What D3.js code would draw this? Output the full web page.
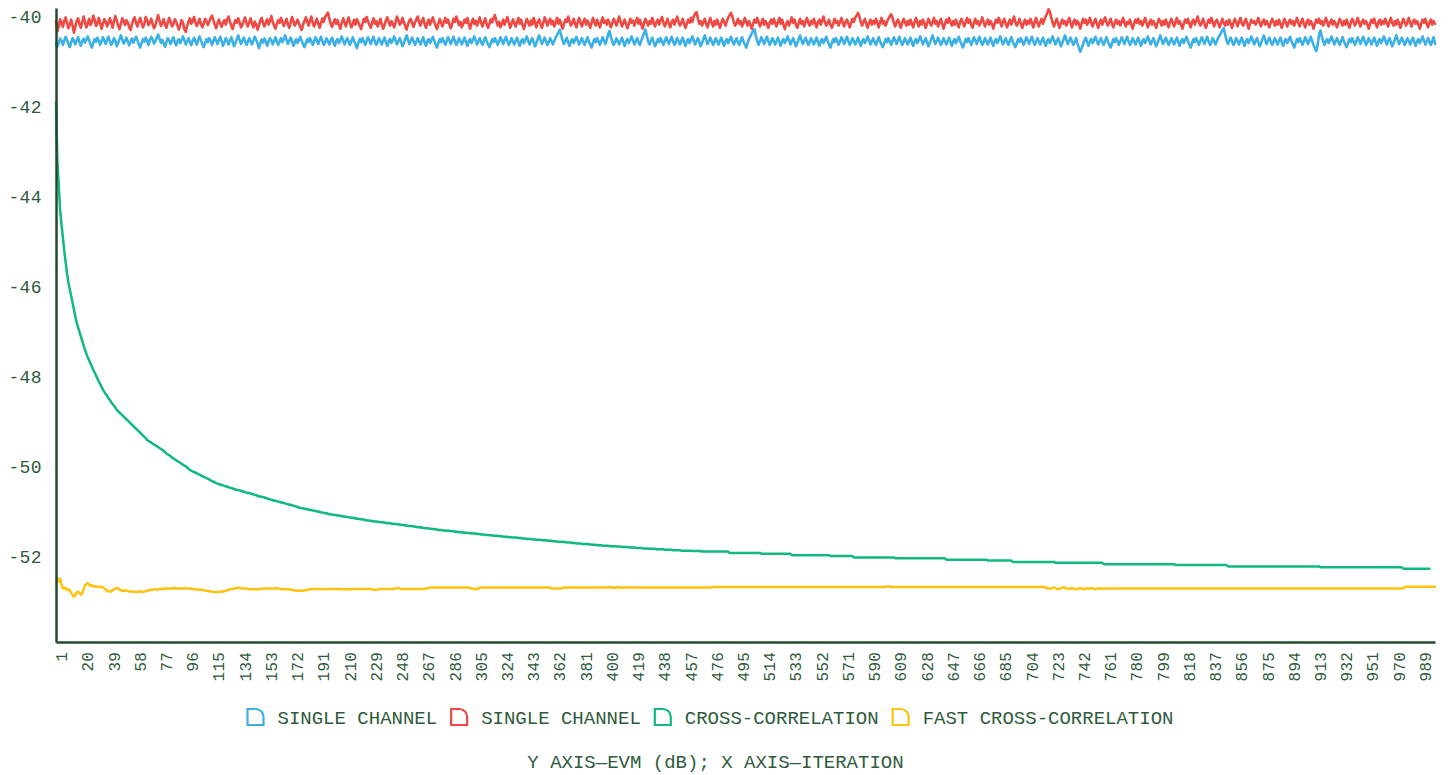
<!DOCTYPE html>
<html>
<head>
<meta charset="utf-8">
<script src="https://cdn.jsdelivr.net/npm/d3@7"></script>
<style>
  html, body { margin: 0; padding: 0; background: #ffffff; }
  svg { display: block; }
  text { font-family: "Liberation Mono", "DejaVu Sans Mono", monospace; }
</style>
</head>
<body>
<svg id="chart" width="1450" height="775"></svg>
<script>
// ---------------- DATA ----------------
const seriesNames = ["SINGLE CHANNEL", "SINGLE CHANNEL", "CROSS-CORRELATION", "FAST CROSS-CORRELATION"];
const seriesColors = ["#3BB0E6", "#F04842", "#10B981", "#FFC20E"];
const yTickValues = [-40, -42, -44, -46, -48, -50, -52];
const xTickLabels = [1,20,39,58,77,96,115,134,153,172,191,210,229,248,267,286,305,324,343,362,381,400,419,438,457,476,495,514,533,552,571,590,609,628,647,666,685,704,723,742,761,780,799,818,837,856,875,894,913,932,951,970,989];
const titleText = "Y AXIS\u2014EVM (dB); X AXIS\u2014ITERATION";

// EVM (dB) per iteration 1..1000
const singleChannelBlue = [
-40.59,-40.66,-40.57,-40.48,-40.53,-40.62,-40.52,-40.44,-40.51,-40.60,-40.67,-40.56,-40.47,-40.53,-40.61,-40.52,-40.45,-40.55,-40.64,-40.54,
-40.48,-40.57,-40.51,-40.43,-40.52,-40.61,-40.68,-40.58,-40.49,-40.55,-40.46,-40.53,-40.62,-40.54,-40.45,-40.52,-40.60,-40.51,-40.44,-40.54,
-40.62,-40.56,-40.47,-40.53,-40.65,-40.58,-40.49,-40.41,-40.50,-40.59,-40.53,-40.46,-40.55,-40.63,-40.54,-40.48,-40.57,-40.51,-40.44,-40.52,
-40.61,-40.68,-40.58,-40.49,-40.55,-40.46,-40.53,-40.62,-40.52,-40.44,-40.50,-40.59,-40.54,-40.46,-40.39,-40.48,-40.57,-40.51,-40.59,-40.66,
-40.56,-40.47,-40.53,-40.60,-40.52,-40.45,-40.55,-40.63,-40.54,-40.49,-40.58,-40.51,-40.43,-40.52,-40.61,-40.54,-40.47,-40.56,-40.63,-40.53,
-40.46,-40.54,-40.61,-40.51,-40.43,-40.52,-40.60,-40.67,-40.58,-40.49,-40.56,-40.47,-40.53,-40.62,-40.54,-40.45,-40.52,-40.60,-40.51,-40.44,
-40.54,-40.64,-40.56,-40.47,-40.53,-40.61,-40.52,-40.45,-40.55,-40.65,-40.58,-40.49,-40.41,-40.51,-40.60,-40.53,-40.46,-40.54,-40.62,-40.56,
-40.47,-40.54,-40.61,-40.52,-40.44,-40.51,-40.59,-40.69,-40.59,-40.50,-40.57,-40.48,-40.55,-40.64,-40.54,-40.47,-40.52,-40.61,-40.53,-40.45,
-40.56,-40.62,-40.54,-40.47,-40.56,-40.49,-40.41,-40.51,-40.60,-40.53,-40.46,-40.54,-40.64,-40.56,-40.49,-40.58,-40.51,-40.44,-40.53,-40.61,
-40.67,-40.58,-40.49,-40.56,-40.47,-40.54,-40.62,-40.54,-40.45,-40.52,-40.60,-40.51,-40.44,-40.54,-40.62,-40.56,-40.47,-40.54,-40.61,-40.53,
-40.46,-40.56,-40.64,-40.54,-40.49,-40.58,-40.51,-40.43,-40.52,-40.61,-40.54,-40.47,-40.56,-40.62,-40.53,-40.45,-40.54,-40.61,-40.69,-40.58,
-40.49,-40.56,-40.47,-40.54,-40.62,-40.54,-40.45,-40.52,-40.60,-40.51,-40.44,-40.54,-40.62,-40.56,-40.47,-40.54,-40.61,-40.53,-40.46,-40.56,
-40.64,-40.54,-40.49,-40.58,-40.51,-40.43,-40.52,-40.61,-40.54,-40.47,-40.56,-40.65,-40.58,-40.49,-40.41,-40.51,-40.60,-40.53,-40.46,-40.54,
-40.62,-40.56,-40.47,-40.54,-40.61,-40.53,-40.45,-40.56,-40.64,-40.54,-40.49,-40.58,-40.51,-40.44,-40.52,-40.61,-40.68,-40.58,-40.49,-40.56,
-40.47,-40.54,-40.62,-40.54,-40.45,-40.52,-40.60,-40.51,-40.44,-40.54,-40.62,-40.56,-40.47,-40.54,-40.61,-40.53,-40.46,-40.56,-40.64,-40.54,
-40.49,-40.58,-40.51,-40.43,-40.52,-40.61,-40.54,-40.47,-40.56,-40.62,-40.53,-40.45,-40.54,-40.61,-40.67,-40.58,-40.49,-40.56,-40.47,-40.54,
-40.62,-40.54,-40.45,-40.52,-40.60,-40.51,-40.44,-40.54,-40.62,-40.56,-40.47,-40.54,-40.61,-40.53,-40.46,-40.56,-40.64,-40.54,-40.49,-40.58,
-40.51,-40.43,-40.52,-40.61,-40.54,-40.47,-40.56,-40.65,-40.58,-40.49,-40.41,-40.51,-40.60,-40.53,-40.46,-40.54,-40.62,-40.56,-40.47,-40.54,
-40.61,-40.53,-40.45,-40.40,-40.34,-40.28,-40.41,-40.52,-40.60,-40.53,-40.46,-40.56,-40.64,-40.54,-40.49,-40.58,-40.51,-40.44,-40.53,-40.61,
-40.54,-40.47,-40.56,-40.62,-40.53,-40.45,-40.54,-40.61,-40.68,-40.58,-40.49,-40.56,-40.47,-40.54,-40.62,-40.54,-40.45,-40.52,-40.60,-40.51,
-40.38,-40.31,-40.44,-40.55,-40.62,-40.56,-40.47,-40.54,-40.61,-40.53,-40.46,-40.56,-40.64,-40.54,-40.49,-40.58,-40.51,-40.43,-40.52,-40.61,
-40.54,-40.47,-40.56,-40.62,-40.53,-40.44,-40.36,-40.28,-40.42,-40.54,-40.61,-40.53,-40.46,-40.56,-40.65,-40.58,-40.49,-40.56,-40.47,-40.54,
-40.62,-40.54,-40.45,-40.52,-40.60,-40.51,-40.44,-40.54,-40.62,-40.56,-40.47,-40.54,-40.61,-40.53,-40.46,-40.56,-40.64,-40.54,-40.49,-40.58,
-40.51,-40.43,-40.52,-40.61,-40.54,-40.47,-40.56,-40.65,-40.58,-40.49,-40.41,-40.51,-40.60,-40.53,-40.46,-40.54,-40.62,-40.56,-40.47,-40.54,
-40.61,-40.53,-40.46,-40.56,-40.64,-40.54,-40.49,-40.58,-40.51,-40.44,-40.53,-40.61,-40.54,-40.47,-40.56,-40.62,-40.53,-40.45,-40.54,-40.61,
-40.68,-40.58,-40.49,-40.43,-40.37,-40.30,-40.27,-40.42,-40.54,-40.62,-40.54,-40.45,-40.52,-40.60,-40.51,-40.44,-40.54,-40.62,-40.56,-40.47,
-40.54,-40.61,-40.53,-40.46,-40.56,-40.64,-40.54,-40.49,-40.58,-40.51,-40.43,-40.52,-40.61,-40.54,-40.47,-40.56,-40.65,-40.58,-40.49,-40.41,
-40.51,-40.60,-40.53,-40.46,-40.54,-40.62,-40.56,-40.47,-40.54,-40.61,-40.53,-40.46,-40.56,-40.64,-40.54,-40.49,-40.58,-40.51,-40.44,-40.53,
-40.61,-40.68,-40.58,-40.49,-40.56,-40.47,-40.54,-40.62,-40.54,-40.45,-40.52,-40.60,-40.51,-40.44,-40.54,-40.62,-40.56,-40.47,-40.54,-40.61,
-40.53,-40.46,-40.56,-40.64,-40.54,-40.49,-40.58,-40.51,-40.43,-40.52,-40.61,-40.54,-40.47,-40.56,-40.62,-40.53,-40.45,-40.54,-40.61,-40.67,
-40.58,-40.49,-40.56,-40.47,-40.54,-40.62,-40.54,-40.45,-40.52,-40.60,-40.51,-40.44,-40.54,-40.62,-40.56,-40.47,-40.54,-40.61,-40.53,-40.46,
-40.56,-40.64,-40.54,-40.49,-40.58,-40.51,-40.43,-40.52,-40.61,-40.54,-40.47,-40.56,-40.65,-40.58,-40.49,-40.41,-40.51,-40.60,-40.53,-40.46,
-40.54,-40.62,-40.56,-40.47,-40.54,-40.61,-40.53,-40.46,-40.56,-40.64,-40.54,-40.49,-40.58,-40.51,-40.44,-40.53,-40.61,-40.68,-40.58,-40.49,
-40.56,-40.47,-40.54,-40.62,-40.54,-40.45,-40.52,-40.60,-40.51,-40.44,-40.54,-40.62,-40.56,-40.47,-40.54,-40.61,-40.53,-40.46,-40.56,-40.64,
-40.54,-40.49,-40.58,-40.51,-40.43,-40.52,-40.61,-40.54,-40.47,-40.56,-40.62,-40.53,-40.45,-40.54,-40.61,-40.67,-40.58,-40.49,-40.56,-40.47,
-40.54,-40.62,-40.54,-40.45,-40.52,-40.60,-40.51,-40.44,-40.54,-40.62,-40.56,-40.47,-40.54,-40.61,-40.53,-40.46,-40.56,-40.64,-40.54,-40.49,
-40.58,-40.51,-40.43,-40.52,-40.61,-40.54,-40.47,-40.56,-40.65,-40.58,-40.49,-40.41,-40.51,-40.60,-40.53,-40.46,-40.54,-40.62,-40.56,-40.47,
-40.59,-40.68,-40.77,-40.70,-40.60,-40.53,-40.46,-40.56,-40.64,-40.54,-40.49,-40.58,-40.51,-40.44,-40.53,-40.61,-40.54,-40.47,-40.56,-40.62,
-40.53,-40.45,-40.54,-40.61,-40.68,-40.58,-40.49,-40.56,-40.47,-40.54,-40.62,-40.54,-40.45,-40.52,-40.60,-40.51,-40.44,-40.54,-40.62,-40.56,
-40.47,-40.54,-40.61,-40.53,-40.46,-40.56,-40.64,-40.54,-40.49,-40.58,-40.51,-40.43,-40.52,-40.61,-40.54,-40.47,-40.56,-40.65,-40.58,-40.49,
-40.41,-40.51,-40.60,-40.53,-40.46,-40.54,-40.62,-40.56,-40.47,-40.54,-40.61,-40.53,-40.46,-40.56,-40.64,-40.54,-40.49,-40.58,-40.51,-40.44,
-40.53,-40.61,-40.68,-40.58,-40.49,-40.56,-40.47,-40.54,-40.62,-40.54,-40.45,-40.52,-40.60,-40.51,-40.44,-40.54,-40.62,-40.56,-40.47,-40.54,
-40.61,-40.53,-40.46,-40.41,-40.35,-40.29,-40.25,-40.39,-40.52,-40.60,-40.53,-40.46,-40.54,-40.62,-40.56,-40.47,-40.54,-40.61,-40.53,-40.46,
-40.56,-40.64,-40.54,-40.49,-40.58,-40.51,-40.43,-40.52,-40.61,-40.54,-40.47,-40.56,-40.65,-40.58,-40.49,-40.41,-40.51,-40.60,-40.53,-40.46,
-40.54,-40.62,-40.56,-40.47,-40.54,-40.61,-40.53,-40.46,-40.56,-40.64,-40.54,-40.49,-40.58,-40.51,-40.44,-40.53,-40.61,-40.68,-40.58,-40.49,
-40.56,-40.47,-40.54,-40.62,-40.54,-40.45,-40.52,-40.60,-40.51,-40.44,-40.54,-40.62,-40.69,-40.76,-40.62,-40.40,-40.30,-40.43,-40.54,-40.62,
-40.54,-40.49,-40.58,-40.51,-40.43,-40.52,-40.61,-40.54,-40.47,-40.56,-40.62,-40.53,-40.45,-40.54,-40.61,-40.67,-40.58,-40.49,-40.56,-40.47,
-40.54,-40.62,-40.54,-40.45,-40.52,-40.60,-40.51,-40.44,-40.54,-40.62,-40.56,-40.47,-40.54,-40.61,-40.53,-40.46,-40.56,-40.64,-40.54,-40.49,
-40.58,-40.51,-40.43,-40.52,-40.61,-40.54,-40.47,-40.56,-40.65,-40.58,-40.49,-40.41,-40.51,-40.60,-40.53,-40.46,-40.54,-40.62,-40.56,-40.47,
-40.54,-40.61,-40.53,-40.46,-40.56,-40.64,-40.54,-40.49,-40.58,-40.51,-40.43,-40.52,-40.61,-40.54,-40.47,-40.56,-40.62,-40.53,-40.45,-40.60
];

const singleChannelRed = [
-40.10,-40.32,-40.21,-40.05,-40.14,-40.22,-40.08,-40.01,-40.13,-40.25,-40.17,-40.06,-40.19,-40.35,-40.22,-40.09,-40.03,-40.15,-40.24,-40.11,
-39.99,-40.12,-40.23,-40.14,-40.04,-40.18,-40.11,-39.97,-40.06,-40.20,-40.15,-40.02,-40.13,-40.26,-40.16,-40.05,-40.10,-40.21,-40.14,-40.03,
-40.11,-40.24,-40.09,-39.98,-40.08,-40.19,-40.27,-40.15,-40.03,-40.09,-40.18,-40.07,-40.12,-40.22,-40.29,-40.17,-40.06,-40.01,-40.13,-40.21,
-40.10,-40.02,-40.14,-40.23,-40.15,-40.00,-40.07,-40.18,-40.12,-40.04,-40.16,-40.25,-40.19,-40.06,-39.96,-40.08,-40.20,-40.14,-40.05,-40.17,
-40.24,-40.12,-40.02,-40.11,-40.21,-40.16,-40.05,-40.10,-40.19,-40.28,-40.18,-40.07,-40.13,-40.27,-40.33,-40.20,-40.10,-40.03,-40.15,-40.09,
-40.00,-40.12,-40.20,-40.13,-40.04,-40.16,-40.23,-40.15,-40.04,-40.09,-40.18,-40.11,-40.02,-39.97,-40.07,-40.17,-40.25,-40.14,-40.06,-40.15,
-40.22,-40.12,-40.07,-40.17,-40.06,-39.99,-40.10,-40.20,-40.27,-40.15,-40.07,-40.13,-40.03,-40.11,-40.23,-40.17,-40.09,-40.01,-40.13,-40.21,
-40.12,-40.03,-40.15,-40.23,-40.10,-40.17,-40.28,-40.19,-40.08,-40.02,-40.13,-40.21,-40.12,-40.05,-40.17,-40.09,-39.98,-40.11,-40.19,-40.26,
-40.15,-40.07,-40.13,-40.02,-40.10,-40.20,-40.13,-40.04,-40.16,-40.24,-40.12,-40.00,-40.09,-40.19,-40.13,-40.06,-40.15,-40.22,-40.29,-40.17,
-40.09,-40.01,-40.11,-40.19,-40.08,-39.99,-40.13,-40.21,-40.12,-40.04,-40.15,-40.24,-40.13,-40.03,-40.11,-40.00,-39.95,-39.90,-40.03,-40.15,
-40.22,-40.12,-40.05,-40.15,-40.07,-40.18,-40.26,-40.14,-40.03,-40.11,-40.21,-40.10,-40.01,-40.13,-40.23,-40.15,-40.06,-40.17,-40.05,-40.12,
-40.19,-40.27,-40.15,-40.04,-40.11,-40.00,-40.09,-40.17,-40.24,-40.13,-40.03,-40.15,-40.09,-40.21,-40.13,-40.04,-40.16,-40.26,-40.18,-40.07,
-40.01,-40.11,-40.19,-40.09,-40.15,-40.23,-40.12,-39.99,-40.07,-40.17,-40.13,-40.02,-40.11,-40.21,-40.28,-40.16,-40.08,-40.04,-40.14,-40.22,
-40.13,-40.06,-39.99,-40.11,-40.19,-40.09,-40.02,-40.15,-40.24,-40.13,-40.06,-40.17,-40.09,-40.01,-40.11,-40.19,-40.27,-40.15,-40.04,-40.13,
-40.21,-40.11,-40.02,-40.13,-40.06,-40.17,-40.25,-40.15,-40.04,-40.11,-39.99,-40.08,-40.18,-40.11,-40.23,-40.15,-40.06,-40.13,-40.02,-40.16,
-40.26,-40.13,-40.04,-40.15,-40.08,-40.19,-40.11,-40.01,-40.13,-40.21,-40.11,-40.03,-40.16,-40.24,-40.15,-40.05,-40.12,-40.02,-39.96,-40.09,
-40.19,-40.11,-40.23,-40.15,-40.06,-40.17,-40.09,-40.00,-40.12,-40.24,-40.16,-40.05,-40.13,-40.21,-40.11,-40.02,-40.15,-40.06,-40.18,-40.27,
-40.15,-40.04,-40.11,-40.19,-40.08,-40.17,-40.02,-40.12,-40.23,-40.11,-40.05,-40.15,-40.24,-40.13,-40.01,-40.09,-40.19,-40.11,-40.04,-40.16,
-40.09,-40.21,-40.13,-40.02,-40.15,-40.06,-40.17,-40.26,-40.15,-40.06,-40.11,-39.99,-40.09,-40.19,-40.13,-40.04,-40.15,-40.23,-40.11,-40.02,
-40.13,-40.21,-40.11,-40.04,-40.17,-40.08,-40.15,-40.24,-40.13,-40.02,-40.11,-40.19,-40.06,-40.15,-40.23,-40.11,-40.01,-40.13,-40.08,-40.17,
-40.06,-40.15,-40.23,-40.13,-40.04,-40.11,-40.19,-40.09,-39.99,-40.11,-40.21,-40.13,-40.06,-40.17,-40.25,-40.15,-40.04,-40.13,-40.08,-40.19,
-40.11,-40.02,-40.15,-40.06,-40.17,-40.26,-40.13,-40.04,-40.11,-40.19,-40.09,-40.15,-40.02,-40.13,-40.21,-40.11,-40.06,-40.17,-40.09,-40.00,
-40.11,-40.21,-40.13,-40.04,-40.15,-40.23,-40.11,-40.06,-40.17,-40.09,-39.99,-40.11,-40.19,-40.13,-40.04,-40.15,-40.24,-40.15,-40.06,-40.13,
-40.02,-40.11,-39.99,-39.93,-39.89,-40.03,-40.15,-40.09,-40.19,-40.11,-40.04,-40.15,-40.23,-40.11,-40.02,-40.13,-40.21,-40.09,-40.17,-40.06,
-40.15,-40.24,-40.13,-40.04,-40.11,-40.19,-40.09,-40.01,-39.96,-39.91,-40.00,-40.11,-40.19,-40.13,-40.04,-40.15,-40.09,-40.21,-40.13,-40.02,
-40.11,-40.19,-40.09,-40.17,-40.26,-40.15,-40.06,-40.13,-40.02,-40.11,-40.21,-40.13,-40.04,-40.17,-40.09,-40.15,-40.24,-40.13,-40.06,-40.15,
-40.04,-40.13,-40.21,-40.11,-40.02,-40.15,-40.06,-40.17,-40.27,-40.15,-40.09,-40.19,-40.11,-40.01,-40.13,-40.06,-40.17,-40.24,-40.13,-40.04,
-40.15,-40.09,-40.21,-40.11,-40.02,-40.13,-40.19,-40.09,-40.15,-40.04,-40.13,-40.23,-40.11,-40.06,-40.17,-40.09,-39.99,-40.11,-40.19,-40.13,
-40.06,-40.17,-40.24,-40.15,-40.04,-40.13,-40.09,-40.19,-40.11,-40.02,-40.13,-40.21,-40.11,-40.06,-40.15,-40.23,-40.13,-40.04,-40.11,-40.01,
-39.97,-39.91,-39.99,-40.11,-40.19,-40.11,-40.04,-40.15,-40.24,-40.13,-40.06,-40.17,-40.09,-40.15,-40.04,-40.13,-40.23,-40.11,-40.02,-40.15,
-40.09,-40.19,-40.11,-40.04,-39.99,-39.94,-40.02,-40.13,-40.21,-40.11,-40.06,-40.15,-40.24,-40.13,-40.04,-40.11,-40.19,-40.09,-40.17,-40.06,
-40.15,-40.23,-40.11,-40.02,-40.13,-40.21,-40.09,-40.17,-40.06,-40.13,-40.24,-40.15,-40.04,-40.11,-40.19,-40.11,-40.02,-40.15,-40.09,-40.21,
-40.13,-40.04,-40.15,-40.26,-40.15,-40.06,-40.13,-40.02,-40.11,-40.19,-40.09,-40.17,-40.06,-40.15,-40.23,-40.11,-40.04,-40.13,-40.21,-40.11,
-40.02,-40.13,-40.06,-40.17,-40.24,-40.13,-40.04,-40.15,-40.09,-40.19,-40.11,-40.01,-40.11,-40.21,-40.13,-40.06,-40.17,-40.09,-40.15,-40.26,
-40.15,-40.06,-40.13,-40.02,-40.11,-40.21,-40.11,-40.04,-40.15,-40.23,-40.13,-40.06,-40.17,-40.09,-39.99,-40.11,-40.19,-40.13,-40.04,-40.15,
-40.24,-40.13,-40.06,-40.17,-40.09,-40.15,-40.04,-40.13,-40.23,-40.11,-40.02,-40.13,-40.21,-40.11,-40.04,-40.15,-40.06,-39.99,-39.92,-39.83,
-39.88,-40.01,-40.13,-40.21,-40.11,-40.04,-40.15,-40.24,-40.13,-40.06,-40.15,-40.09,-40.19,-40.11,-40.02,-40.13,-40.23,-40.11,-40.06,-40.17,
-40.09,-40.15,-40.26,-40.15,-40.04,-40.13,-40.06,-40.17,-40.11,-40.02,-40.13,-40.21,-40.11,-40.04,-40.15,-40.24,-40.13,-40.06,-40.17,-40.09,
-40.01,-40.11,-40.19,-40.11,-40.04,-40.15,-40.23,-40.13,-40.06,-40.15,-40.09,-40.19,-40.11,-40.02,-40.13,-40.21,-40.11,-40.15,-40.06,-40.17,
-40.26,-40.15,-40.06,-40.13,-40.04,-40.15,-40.09,-40.19,-40.11,-40.02,-40.13,-40.23,-40.13,-40.06,-40.17,-40.09,-40.15,-40.24,-40.13,-40.04,
-40.11,-40.19,-40.09,-40.17,-40.06,-40.15,-40.23,-40.11,-40.04,-40.13,-40.21,-40.11,-40.02,-40.15,-40.09,-40.17,-40.26,-40.15,-40.06,-40.13,
-40.04,-40.15,-40.23,-40.11,-40.06,-40.17,-40.09,-39.99,-40.11,-40.19,-40.13,-40.04,-40.15,-40.24,-40.15,-40.06,-40.13,-40.02,-40.11,-40.21,
-40.11,-40.06,-40.15,-40.23,-40.13,-40.04,-40.13,-40.19,-40.09,-40.17,-40.06,-40.15,-40.24,-40.13,-40.04,-40.11,-40.21,-40.11,-40.02,-40.13,
-40.19,-40.11,-40.04,-40.15,-40.26,-40.15,-40.06,-40.13,-40.09,-40.17,-40.11,-40.02,-40.13,-40.21,-40.11,-40.06,-40.17,-40.09,-40.15,-40.23,
-40.13,-40.04,-40.11,-40.19,-40.09,-40.17,-40.06,-40.15,-40.24,-40.13,-40.04,-40.13,-40.21,-40.11,-40.06,-40.15,-40.09,-40.19,-40.11,-40.02,
-40.13,-40.21,-40.11,-40.04,-40.15,-40.23,-40.11,-40.06,-40.17,-40.09,-40.15,-40.26,-40.15,-40.06,-40.13,-40.04,-40.15,-40.09,-40.19,-40.11,
-40.02,-40.13,-40.21,-40.11,-40.06,-40.17,-40.09,-40.15,-40.23,-40.13,-40.04,-40.11,-40.19,-40.09,-40.17,-40.06,-40.15,-40.24,-40.13,-40.04,
-40.11,-40.19,-40.11,-40.02,-40.13,-40.21,-40.11,-40.06,-40.15,-40.09,-40.17,-40.26,-40.15,-40.06,-40.13,-40.04,-40.15,-40.23,-40.11,-40.06,
-40.17,-40.09,-40.15,-40.04,-40.13,-40.21,-40.11,-40.02,-40.13,-40.19,-40.09,-40.17,-40.06,-40.15,-40.24,-40.13,-40.04,-40.11,-40.19,-40.11,
-40.02,-40.13,-40.21,-40.11,-40.06,-40.15,-40.09,-40.17,-40.26,-40.15,-40.06,-40.13,-40.04,-40.15,-40.23,-40.11,-40.06,-40.17,-40.09,-40.15
];

const crossCorrelation = [
-41.90,-43.20,-43.75,-44.30,-44.62,-44.90,-45.20,-45.45,-45.70,-45.90,-46.05,-46.20,-46.35,-46.50,-46.65,-46.80,-46.90,-47.00,-47.10,-47.20,
-47.30,-47.40,-47.48,-47.56,-47.63,-47.70,-47.77,-47.84,-47.90,-47.97,-48.03,-48.10,-48.16,-48.22,-48.28,-48.33,-48.38,-48.42,-48.47,-48.51,
-48.56,-48.60,-48.64,-48.68,-48.73,-48.76,-48.79,-48.82,-48.85,-48.88,-48.91,-48.94,-48.97,-49.00,-49.03,-49.06,-49.09,-49.12,-49.15,-49.18,
-49.21,-49.24,-49.27,-49.30,-49.33,-49.36,-49.40,-49.42,-49.44,-49.46,-49.48,-49.50,-49.52,-49.54,-49.56,-49.58,-49.60,-49.62,-49.64,-49.67,
-49.70,-49.72,-49.74,-49.76,-49.79,-49.81,-49.83,-49.85,-49.87,-49.89,-49.91,-49.93,-49.95,-49.97,-49.99,-50.01,-50.04,-50.07,-50.08,-50.10,
-50.11,-50.13,-50.14,-50.16,-50.17,-50.19,-50.20,-50.22,-50.23,-50.25,-50.26,-50.28,-50.30,-50.31,-50.33,-50.34,-50.36,-50.37,-50.38,-50.39,
-50.40,-50.41,-50.42,-50.43,-50.44,-50.45,-50.46,-50.47,-50.48,-50.49,-50.50,-50.51,-50.51,-50.52,-50.53,-50.54,-50.55,-50.56,-50.57,-50.58,
-50.58,-50.59,-50.60,-50.61,-50.62,-50.63,-50.64,-50.65,-50.66,-50.66,-50.67,-50.68,-50.69,-50.70,-50.71,-50.72,-50.73,-50.74,-50.75,-50.75,
-50.76,-50.77,-50.78,-50.79,-50.79,-50.80,-50.81,-50.82,-50.83,-50.84,-50.84,-50.85,-50.86,-50.87,-50.88,-50.89,-50.90,-50.91,-50.92,-50.92,
-50.93,-50.93,-50.94,-50.95,-50.95,-50.96,-50.97,-50.97,-50.98,-50.99,-50.99,-51.00,-51.01,-51.01,-51.02,-51.03,-51.03,-51.04,-51.05,-51.05,
-51.06,-51.06,-51.07,-51.07,-51.08,-51.08,-51.09,-51.09,-51.10,-51.10,-51.11,-51.11,-51.12,-51.12,-51.13,-51.13,-51.14,-51.14,-51.15,-51.15,
-51.16,-51.16,-51.17,-51.17,-51.18,-51.19,-51.19,-51.19,-51.20,-51.20,-51.21,-51.21,-51.21,-51.22,-51.22,-51.23,-51.23,-51.23,-51.24,-51.24,
-51.25,-51.25,-51.25,-51.26,-51.26,-51.27,-51.27,-51.27,-51.28,-51.28,-51.29,-51.29,-51.29,-51.30,-51.30,-51.31,-51.31,-51.31,-51.32,-51.32,
-51.33,-51.33,-51.34,-51.34,-51.34,-51.35,-51.35,-51.36,-51.36,-51.36,-51.37,-51.37,-51.38,-51.38,-51.38,-51.39,-51.39,-51.40,-51.40,-51.40,
-51.41,-51.41,-51.41,-51.42,-51.42,-51.42,-51.43,-51.43,-51.43,-51.44,-51.44,-51.44,-51.45,-51.45,-51.45,-51.46,-51.46,-51.46,-51.47,-51.47,
-51.47,-51.48,-51.48,-51.48,-51.48,-51.49,-51.49,-51.49,-51.50,-51.50,-51.50,-51.51,-51.51,-51.51,-51.52,-51.52,-51.52,-51.53,-51.53,-51.53,
-51.53,-51.54,-51.54,-51.54,-51.55,-51.55,-51.55,-51.55,-51.56,-51.56,-51.56,-51.57,-51.57,-51.57,-51.57,-51.58,-51.58,-51.58,-51.59,-51.59,
-51.59,-51.60,-51.60,-51.60,-51.60,-51.61,-51.61,-51.61,-51.62,-51.62,-51.62,-51.62,-51.63,-51.63,-51.63,-51.63,-51.64,-51.64,-51.64,-51.64,
-51.65,-51.65,-51.65,-51.66,-51.66,-51.66,-51.66,-51.67,-51.67,-51.67,-51.68,-51.68,-51.68,-51.68,-51.69,-51.69,-51.69,-51.70,-51.70,-51.70,
-51.70,-51.71,-51.71,-51.71,-51.71,-51.72,-51.72,-51.72,-51.73,-51.73,-51.73,-51.73,-51.74,-51.74,-51.74,-51.74,-51.75,-51.75,-51.75,-51.75,
-51.75,-51.76,-51.76,-51.76,-51.76,-51.76,-51.77,-51.77,-51.77,-51.77,-51.78,-51.78,-51.78,-51.78,-51.78,-51.79,-51.79,-51.79,-51.79,-51.79,
-51.80,-51.80,-51.80,-51.80,-51.80,-51.81,-51.81,-51.81,-51.81,-51.81,-51.82,-51.82,-51.82,-51.82,-51.82,-51.83,-51.83,-51.83,-51.83,-51.83,
-51.83,-51.84,-51.84,-51.84,-51.84,-51.84,-51.84,-51.85,-51.85,-51.85,-51.85,-51.85,-51.85,-51.86,-51.86,-51.86,-51.86,-51.86,-51.86,-51.86,
-51.86,-51.87,-51.87,-51.87,-51.87,-51.87,-51.87,-51.87,-51.88,-51.88,-51.88,-51.88,-51.88,-51.88,-51.88,-51.88,-51.88,-51.88,-51.88,-51.88,
-51.88,-51.88,-51.88,-51.88,-51.88,-51.88,-51.88,-51.88,-51.91,-51.91,-51.91,-51.91,-51.91,-51.91,-51.91,-51.91,-51.91,-51.91,-51.91,-51.91,
-51.91,-51.91,-51.91,-51.91,-51.91,-51.91,-51.91,-51.91,-51.91,-51.91,-51.91,-51.93,-51.93,-51.93,-51.93,-51.93,-51.93,-51.93,-51.93,-51.93,
-51.93,-51.93,-51.93,-51.93,-51.93,-51.93,-51.93,-51.93,-51.93,-51.93,-51.93,-51.93,-51.93,-51.96,-51.96,-51.96,-51.96,-51.96,-51.96,-51.96,
-51.96,-51.96,-51.96,-51.96,-51.96,-51.96,-51.96,-51.96,-51.96,-51.96,-51.96,-51.96,-51.96,-51.96,-51.96,-51.96,-51.96,-51.96,-51.96,-51.96,
-51.96,-51.98,-51.98,-51.98,-51.98,-51.98,-51.98,-51.98,-51.98,-51.98,-51.98,-51.98,-51.98,-51.98,-51.98,-51.98,-51.98,-51.98,-52.01,-52.01,
-52.01,-52.01,-52.01,-52.01,-52.01,-52.01,-52.01,-52.01,-52.01,-52.01,-52.01,-52.01,-52.01,-52.01,-52.01,-52.01,-52.01,-52.01,-52.01,-52.01,
-52.01,-52.01,-52.01,-52.01,-52.01,-52.01,-52.01,-52.01,-52.03,-52.03,-52.03,-52.03,-52.03,-52.03,-52.03,-52.03,-52.03,-52.03,-52.03,-52.03,
-52.03,-52.03,-52.03,-52.03,-52.03,-52.03,-52.03,-52.03,-52.03,-52.03,-52.03,-52.03,-52.03,-52.03,-52.03,-52.03,-52.03,-52.03,-52.03,-52.03,
-52.03,-52.03,-52.03,-52.03,-52.03,-52.06,-52.06,-52.06,-52.06,-52.06,-52.06,-52.06,-52.06,-52.06,-52.06,-52.06,-52.06,-52.06,-52.06,-52.06,
-52.06,-52.06,-52.06,-52.06,-52.06,-52.06,-52.06,-52.06,-52.06,-52.06,-52.06,-52.06,-52.06,-52.06,-52.06,-52.08,-52.08,-52.08,-52.08,-52.08,
-52.08,-52.08,-52.08,-52.08,-52.08,-52.08,-52.08,-52.08,-52.08,-52.08,-52.08,-52.08,-52.08,-52.11,-52.11,-52.11,-52.11,-52.11,-52.11,-52.11,
-52.11,-52.11,-52.11,-52.11,-52.11,-52.11,-52.11,-52.11,-52.11,-52.11,-52.11,-52.11,-52.11,-52.11,-52.11,-52.11,-52.11,-52.11,-52.11,-52.11,
-52.11,-52.11,-52.11,-52.11,-52.13,-52.13,-52.13,-52.13,-52.13,-52.13,-52.13,-52.13,-52.13,-52.13,-52.13,-52.13,-52.13,-52.13,-52.13,-52.13,
-52.13,-52.13,-52.13,-52.13,-52.13,-52.13,-52.13,-52.13,-52.13,-52.13,-52.13,-52.13,-52.13,-52.13,-52.13,-52.13,-52.13,-52.13,-52.13,-52.16,
-52.16,-52.16,-52.16,-52.16,-52.16,-52.16,-52.16,-52.16,-52.16,-52.16,-52.16,-52.16,-52.16,-52.16,-52.16,-52.16,-52.16,-52.16,-52.16,-52.16,
-52.16,-52.16,-52.16,-52.16,-52.16,-52.16,-52.16,-52.16,-52.16,-52.16,-52.16,-52.16,-52.16,-52.16,-52.16,-52.16,-52.16,-52.16,-52.16,-52.16,
-52.16,-52.16,-52.16,-52.16,-52.16,-52.16,-52.16,-52.16,-52.16,-52.16,-52.16,-52.18,-52.18,-52.18,-52.18,-52.18,-52.18,-52.18,-52.18,-52.18,
-52.18,-52.18,-52.18,-52.18,-52.18,-52.18,-52.18,-52.18,-52.18,-52.18,-52.18,-52.18,-52.18,-52.18,-52.18,-52.18,-52.18,-52.18,-52.18,-52.18,
-52.18,-52.18,-52.18,-52.18,-52.18,-52.18,-52.18,-52.18,-52.18,-52.21,-52.21,-52.21,-52.21,-52.21,-52.21,-52.21,-52.21,-52.21,-52.21,-52.21,
-52.21,-52.21,-52.21,-52.21,-52.21,-52.21,-52.21,-52.21,-52.21,-52.21,-52.21,-52.21,-52.21,-52.21,-52.21,-52.21,-52.21,-52.21,-52.21,-52.21,
-52.21,-52.21,-52.21,-52.21,-52.21,-52.21,-52.21,-52.21,-52.21,-52.21,-52.21,-52.21,-52.21,-52.21,-52.21,-52.21,-52.21,-52.21,-52.21,-52.21,
-52.21,-52.21,-52.21,-52.21,-52.21,-52.21,-52.21,-52.21,-52.21,-52.21,-52.21,-52.21,-52.21,-52.21,-52.21,-52.21,-52.23,-52.23,-52.23,-52.23,
-52.23,-52.23,-52.23,-52.23,-52.23,-52.23,-52.23,-52.23,-52.23,-52.23,-52.23,-52.23,-52.23,-52.23,-52.23,-52.23,
-52.23,-52.23,-52.23,-52.23,-52.23,-52.23,-52.23,-52.23,-52.23,-52.23,-52.23,-52.23,-52.23,-52.23,-52.23,-52.23,-52.23,-52.23,-52.23,-52.23,
-52.23,-52.23,-52.23,-52.23,-52.23,-52.23,-52.23,-52.23,-52.23,-52.23,-52.23,-52.23,-52.23,-52.23,-52.23,-52.23,-52.23,-52.23,-52.23,-52.23,
-52.26,-52.26,-52.26,-52.26,-52.26,-52.26,-52.26,-52.26,-52.26,-52.26,-52.26,-52.26,-52.26,-52.26,-52.26,-52.26,-52.26,-52.26,-52.26,-52.26
];

const fastCrossCorrelation = [
-52.51,-52.47,-52.55,-52.48,-52.62,-52.70,-52.68,-52.72,-52.70,-52.73,-52.74,-52.80,-52.85,-52.88,-52.84,-52.79,-52.77,-52.80,-52.84,-52.80,
-52.72,-52.64,-52.60,-52.58,-52.62,-52.64,-52.63,-52.65,-52.66,-52.65,-52.67,-52.66,-52.67,-52.66,-52.68,-52.70,-52.72,-52.75,-52.77,-52.76,
-52.77,-52.74,-52.72,-52.70,-52.69,-52.70,-52.72,-52.74,-52.75,-52.76,-52.74,-52.75,-52.76,-52.77,-52.76,-52.77,-52.78,-52.78,-52.77,-52.78,
-52.77,-52.76,-52.78,-52.78,-52.77,-52.76,-52.75,-52.74,-52.74,-52.73,-52.73,-52.72,-52.72,-52.73,-52.72,-52.72,-52.71,-52.71,-52.70,-52.71,
-52.70,-52.70,-52.70,-52.71,-52.70,-52.70,-52.69,-52.70,-52.70,-52.71,-52.70,-52.70,-52.70,-52.69,-52.70,-52.70,-52.70,-52.70,-52.71,-52.71,
-52.72,-52.72,-52.72,-52.73,-52.73,-52.73,-52.73,-52.74,-52.75,-52.75,-52.76,-52.76,-52.77,-52.77,-52.78,-52.78,-52.78,-52.78,-52.78,-52.78,
-52.77,-52.77,-52.76,-52.75,-52.74,-52.73,-52.72,-52.71,-52.71,-52.70,-52.69,-52.69,-52.69,-52.69,-52.69,-52.70,-52.70,-52.70,-52.70,-52.71,
-52.72,-52.72,-52.72,-52.71,-52.72,-52.72,-52.72,-52.71,-52.71,-52.71,-52.70,-52.70,-52.70,-52.71,-52.70,-52.70,-52.70,-52.70,-52.70,-52.70,
-52.69,-52.70,-52.71,-52.71,-52.71,-52.72,-52.72,-52.71,-52.72,-52.72,-52.73,-52.73,-52.74,-52.74,-52.75,-52.75,-52.75,-52.74,-52.75,-52.75,
-52.74,-52.74,-52.73,-52.73,-52.72,-52.72,-52.71,-52.71,-52.71,-52.71,-52.71,-52.71,-52.72,-52.71,-52.71,-52.71,-52.71,-52.72,-52.71,-52.71,
-52.71,-52.71,-52.71,-52.72,-52.71,-52.71,-52.71,-52.72,-52.72,-52.72,-52.72,-52.72,-52.72,-52.72,-52.72,-52.71,-52.71,-52.71,-52.71,-52.71,
-52.71,-52.71,-52.71,-52.71,-52.71,-52.71,-52.71,-52.71,-52.71,-52.72,-52.73,-52.73,-52.73,-52.72,-52.71,-52.71,-52.71,-52.71,-52.71,-52.71,
-52.71,-52.71,-52.71,-52.71,-52.71,-52.71,-52.70,-52.69,-52.69,-52.70,-52.71,-52.71,-52.71,-52.71,-52.71,-52.71,-52.71,-52.71,-52.71,-52.71,
-52.71,-52.71,-52.71,-52.71,-52.71,-52.71,-52.71,-52.71,-52.70,-52.70,-52.69,-52.68,-52.68,-52.68,-52.68,-52.68,-52.68,-52.68,-52.68,-52.68,
-52.68,-52.68,-52.68,-52.68,-52.68,-52.68,-52.68,-52.68,-52.68,-52.68,-52.68,-52.68,-52.68,-52.68,-52.68,-52.68,-52.68,-52.68,-52.68,-52.68,
-52.69,-52.70,-52.71,-52.71,-52.71,-52.71,-52.70,-52.69,-52.68,-52.68,-52.68,-52.68,-52.68,-52.68,-52.68,-52.68,-52.68,-52.68,-52.68,-52.68,
-52.68,-52.68,-52.68,-52.68,-52.68,-52.68,-52.68,-52.68,-52.68,-52.68,-52.68,-52.68,-52.68,-52.68,-52.68,-52.68,-52.68,-52.68,-52.68,-52.68,
-52.68,-52.68,-52.68,-52.68,-52.68,-52.68,-52.68,-52.68,-52.68,-52.68,-52.68,-52.68,-52.68,-52.68,-52.68,-52.68,-52.68,-52.68,-52.69,-52.70,
-52.70,-52.70,-52.70,-52.70,-52.70,-52.70,-52.70,-52.69,-52.68,-52.68,-52.68,-52.68,-52.68,-52.68,-52.68,-52.68,-52.68,-52.68,-52.68,-52.68,
-52.68,-52.68,-52.68,-52.68,-52.68,-52.68,-52.68,-52.68,-52.68,-52.68,-52.68,-52.68,-52.68,-52.68,-52.68,-52.68,-52.68,-52.68,-52.68,-52.67,
-52.68,-52.67,-52.67,-52.68,-52.68,-52.69,-52.68,-52.67,-52.67,-52.68,-52.69,-52.68,-52.67,-52.68,-52.67,-52.68,-52.68,-52.68,-52.68,-52.68,
-52.68,-52.68,-52.68,-52.68,-52.68,-52.68,-52.68,-52.68,-52.68,-52.68,-52.68,-52.68,-52.68,-52.68,-52.68,-52.68,-52.68,-52.68,-52.68,-52.68,
-52.68,-52.68,-52.68,-52.68,-52.68,-52.68,-52.68,-52.68,-52.68,-52.68,-52.68,-52.68,-52.68,-52.68,-52.68,-52.68,-52.68,-52.68,-52.68,-52.68,
-52.68,-52.68,-52.68,-52.68,-52.68,-52.68,-52.68,-52.68,-52.68,-52.68,-52.68,-52.68,-52.68,-52.68,-52.68,-52.68,-52.67,-52.67,-52.67,-52.67,
-52.67,-52.67,-52.67,-52.67,-52.67,-52.67,-52.67,-52.67,-52.67,-52.67,-52.67,-52.67,-52.67,-52.67,-52.67,-52.67,-52.67,-52.67,-52.67,-52.67,
-52.67,-52.67,-52.67,-52.67,-52.67,-52.67,-52.67,-52.67,-52.67,-52.67,-52.67,-52.67,-52.67,-52.67,-52.67,-52.67,-52.67,-52.67,-52.67,-52.67,
-52.67,-52.67,-52.67,-52.67,-52.67,-52.67,-52.67,-52.67,-52.67,-52.67,-52.67,-52.67,-52.67,-52.67,-52.67,-52.67,-52.67,-52.67,-52.67,-52.67,
-52.67,-52.67,-52.67,-52.67,-52.67,-52.67,-52.67,-52.67,-52.67,-52.67,-52.67,-52.67,-52.67,-52.67,-52.67,-52.67,-52.67,-52.67,-52.67,-52.67,
-52.67,-52.67,-52.67,-52.67,-52.67,-52.67,-52.67,-52.67,-52.67,-52.67,-52.67,-52.67,-52.67,-52.67,-52.67,-52.67,-52.67,-52.67,-52.67,-52.67,
-52.67,-52.67,-52.67,-52.67,-52.67,-52.67,-52.67,-52.67,-52.67,-52.67,-52.67,-52.67,-52.67,-52.67,-52.67,-52.67,-52.67,-52.67,-52.67,-52.67,
-52.67,-52.67,-52.66,-52.65,-52.66,-52.67,-52.67,-52.67,-52.67,-52.67,-52.67,-52.67,-52.67,-52.67,-52.67,-52.67,-52.67,-52.67,-52.67,-52.67,
-52.67,-52.67,-52.67,-52.67,-52.67,-52.67,-52.67,-52.67,-52.67,-52.67,-52.67,-52.67,-52.67,-52.67,-52.67,-52.67,-52.67,-52.67,-52.67,-52.67,
-52.67,-52.67,-52.67,-52.67,-52.67,-52.67,-52.67,-52.67,-52.67,-52.67,-52.67,-52.67,-52.67,-52.67,-52.67,-52.67,-52.67,-52.67,-52.67,-52.67,
-52.67,-52.67,-52.67,-52.67,-52.67,-52.67,-52.67,-52.67,-52.67,-52.67,-52.67,-52.67,-52.67,-52.67,-52.67,-52.67,-52.67,-52.67,-52.67,-52.67,
-52.67,-52.67,-52.67,-52.67,-52.67,-52.67,-52.67,-52.67,-52.67,-52.67,-52.67,-52.67,-52.67,-52.67,-52.67,-52.67,-52.67,-52.67,-52.67,-52.67,
-52.67,-52.67,-52.67,-52.67,-52.67,-52.67,-52.67,-52.67,-52.67,-52.67,-52.67,-52.67,-52.67,-52.67,-52.67,-52.67,-52.67,-52.68,-52.69,-52.70,
-52.71,-52.70,-52.68,-52.68,-52.69,-52.71,-52.72,-52.71,-52.69,-52.68,-52.68,-52.69,-52.70,-52.71,-52.71,-52.70,-52.69,-52.70,-52.71,-52.72,
-52.71,-52.70,-52.69,-52.70,-52.72,-52.71,-52.70,-52.70,-52.71,-52.70,-52.69,-52.70,-52.71,-52.72,-52.71,-52.70,-52.70,-52.70,-52.71,-52.70,
-52.70,-52.70,-52.71,-52.70,-52.70,-52.70,-52.70,-52.70,-52.70,-52.70,-52.70,-52.70,-52.70,-52.70,-52.70,-52.70,-52.70,-52.70,-52.70,-52.70,
-52.70,-52.70,-52.70,-52.70,-52.70,-52.70,-52.70,-52.70,-52.70,-52.70,-52.70,-52.70,-52.70,-52.70,-52.70,-52.70,-52.70,-52.70,-52.70,-52.70,
-52.70,-52.70,-52.70,-52.70,-52.70,-52.70,-52.70,-52.70,-52.70,-52.70,-52.70,-52.70,-52.70,-52.70,-52.70,-52.70,-52.70,-52.70,-52.70,-52.70,
-52.70,-52.70,-52.70,-52.70,-52.70,-52.70,-52.70,-52.70,-52.70,-52.70,-52.70,-52.70,-52.70,-52.70,-52.70,-52.70,-52.70,-52.70,-52.70,-52.70,
-52.70,-52.70,-52.70,-52.70,-52.70,-52.70,-52.70,-52.70,-52.70,-52.70,-52.70,-52.70,-52.70,-52.70,-52.70,-52.70,-52.70,-52.70,-52.70,-52.70,
-52.70,-52.70,-52.70,-52.70,-52.70,-52.70,-52.70,-52.70,-52.70,-52.70,-52.70,-52.70,-52.70,-52.70,-52.70,-52.70,-52.70,-52.70,-52.70,-52.70,
-52.70,-52.70,-52.70,-52.70,-52.70,-52.70,-52.70,-52.70,-52.70,-52.70,-52.70,-52.70,-52.70,-52.70,-52.70,-52.70,-52.70,-52.70,-52.70,-52.70,
-52.70,-52.70,-52.70,-52.70,-52.70,-52.70,-52.70,-52.70,-52.70,-52.70,-52.70,-52.70,-52.70,-52.70,-52.70,-52.70,-52.70,-52.70,-52.70,-52.70,
-52.70,-52.70,-52.70,-52.70,-52.70,-52.70,-52.70,-52.70,-52.70,-52.70,-52.70,-52.70,-52.70,-52.70,-52.70,-52.70,-52.70,-52.70,-52.70,-52.70,
-52.70,-52.70,-52.70,-52.70,-52.70,-52.70,-52.70,-52.70,-52.70,-52.70,-52.70,-52.70,-52.70,-52.70,-52.70,-52.70,-52.70,-52.70,-52.70,-52.70,
-52.70,-52.70,-52.70,-52.70,-52.70,-52.70,-52.70,-52.70,-52.70,-52.70,-52.70,-52.70,-52.70,-52.70,-52.70,-52.70,-52.70,-52.66,-52.66,-52.66,
-52.66,-52.66,-52.66,-52.66,-52.66,-52.66,-52.66,-52.66,-52.66,-52.66,-52.66,-52.66,-52.66,-52.66,-52.66,-52.66,-52.66,-52.66,-52.66,-52.66
];

const seriesValues = [singleChannelBlue, singleChannelRed, crossCorrelation, fastCrossCorrelation];

// ---------------- CHART ----------------
const W = 1450, H = 775;
const margin = { left: 56, right: 15, top: 8, bottom: 133 };
const textColor = "#2E5B3B";
const axisColor = "#1F4A2C";

const svg = d3.select("#chart");
svg.append("rect").attr("width", W).attr("height", H).attr("fill", "#ffffff");

const nPoints = 1000;
const x = d3.scaleLinear().domain([1, nPoints]).range([margin.left, W - margin.right]);
const y = d3.scaleLinear().domain([-53.89, -39.8]).range([H - margin.bottom, margin.top]);

const line = d3.line()
  .x((d, i) => x(i + 1))
  .y(d => y(d))
  .curve(d3.curveLinear);

const lineWidths = [2.6, 2.6, 2.5, 2.5];
const linesG = svg.append("g");
seriesValues.forEach((vals, k) => {
  linesG.append("path")
    .datum(vals)
    .attr("d", line)
    .attr("fill", "none")
    .attr("stroke", seriesColors[k])
    .attr("stroke-width", lineWidths[k])
    .attr("stroke-linejoin", "round")
    .attr("stroke-linecap", "round");
});

// y axis
const yAxis = d3.axisLeft(y)
  .tickValues(yTickValues)
  .tickFormat(d => String(d))
  .tickSize(0)
  .tickSizeOuter(0)
  .tickPadding(14);
const yG = svg.append("g")
  .attr("transform", `translate(${margin.left},0)`)
  .call(yAxis);
yG.select(".domain").attr("stroke", axisColor).attr("stroke-width", 2.5);
yG.selectAll(".tick text")
  .attr("fill", textColor)
  .style("font-size", "18px")
  .style("letter-spacing", "0.4px")
  .style("font-family", "'Liberation Mono', 'DejaVu Sans Mono', monospace");

// x axis
const xAxis = d3.axisBottom(x)
  .tickValues(xTickLabels)
  .tickFormat(d => String(d))
  .tickSize(0)
  .tickSizeOuter(0);
const xG = svg.append("g")
  .attr("transform", `translate(0,${H - margin.bottom})`)
  .call(xAxis);
xG.select(".domain").attr("stroke", axisColor).attr("stroke-width", 2.5);
xG.selectAll(".tick text")
  .attr("fill", textColor)
  .attr("transform", "rotate(-90)")
  .attr("text-anchor", "end")
  .attr("x", -10)
  .attr("y", 5)
  .attr("dy", "0.35em")
  .style("font-size", "16px")
  .style("letter-spacing", "0.2px")
  .style("font-family", "'Liberation Mono', 'DejaVu Sans Mono', monospace");

// legend
const legendG = svg.append("g");
const iconSize = 16;
const iconGap = 14;
const itemGap = 14;
const legendBaseline = 724;
let cursor = 0;
seriesNames.forEach((name, k) => {
  const g = legendG.append("g");
  g.append("path")
    .attr("d", `M0,0 H${iconSize/2} A${iconSize/2},${iconSize/2} 0 0 1 ${iconSize},${iconSize/2} V${iconSize} H0 Z`)
    .attr("transform", `translate(${cursor},${legendBaseline - 15})`)
    .attr("fill", "none")
    .attr("stroke", seriesColors[k])
    .attr("stroke-width", 2.2);
  const t = g.append("text")
    .attr("x", cursor + iconSize + iconGap)
    .attr("y", legendBaseline)
    .attr("fill", textColor)
    .style("font-size", "19px")
    .text(name);
  const w = t.node().getComputedTextLength();
  cursor += iconSize + iconGap + w + itemGap;
});
const legendWidth = cursor - itemGap;
legendG.attr("transform", `translate(${709.5 - legendWidth / 2 + 1},0)`);

// title
svg.append("text")
  .attr("x", 715.5)
  .attr("y", 768)
  .attr("text-anchor", "middle")
  .attr("fill", textColor)
  .style("font-size", "19px")
  .text(titleText);
</script>
</body>
</html>
